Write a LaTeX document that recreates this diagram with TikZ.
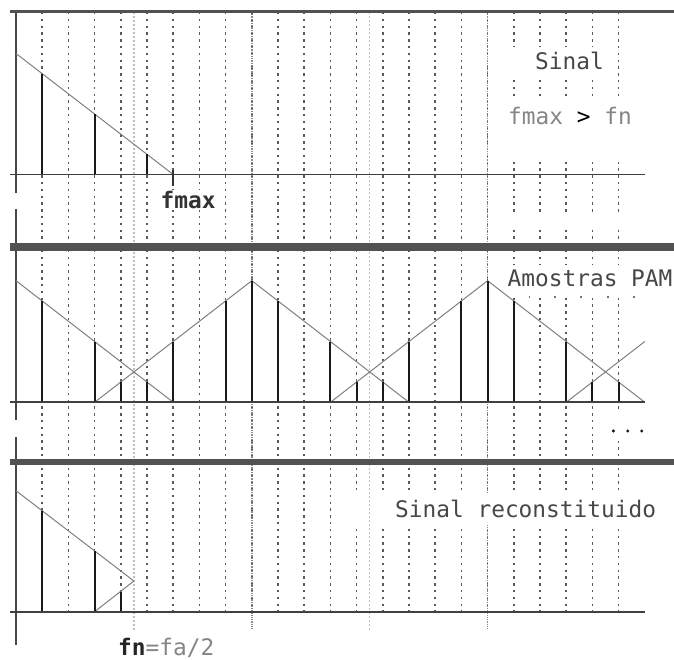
\documentclass[tikz,border=0pt]{standalone}
\usepackage{fontspec}
\setmonofont{DejaVu Sans Mono}
\newcommand\pxk[1]{16+26.2*(#1)}
\begin{document}
\begin{tikzpicture}[x=1pt,y=-1pt,
  dotv/.style={draw=black!65, line width=1.6pt, dash pattern=on 2.4pt off 4.4pt},
  midv/.style={draw=black!45, line width=1.5pt, dash pattern=on 1.2pt off 1pt},
  lightv/.style={draw=black!25, line width=1.3pt, dash pattern=on 2pt off 2pt},
  gapbox/.style={fill=white},
  sepline/.style={draw=black!68},
  axisline/.style={draw=black!72, line width=2pt},
  baseln/.style={draw=black!75, line width=1.7pt},
  tri/.style={draw=black!50, line width=1pt},
  stem/.style={draw=black!90, line width=2pt},
  txt/.style={inner sep=0pt, anchor=base west, font=\ttfamily\fontsize{22.8}{24}\selectfont},
  btxt/.style={txt, font=\ttfamily\bfseries\fontsize{22.8}{24}\selectfont}]
\path[use as bounding box] (0,0) rectangle (674,660);
\clip (0,0) rectangle (674,660);
\fill[white] (0,0) rectangle (674,660);
% regular sample grid lines
\foreach \k in {1,...,23} { \draw[dotv] ({\pxk{\k}},12) -- ({\pxk{\k}},617); }
% fa lines
\foreach \k in {9,18} { \draw[midv] ({\pxk{\k}},12) -- ({\pxk{\k}},630); }
% gaps behind texts
\fill[gapbox] (505,47) rectangle (611,79);
\fill[gapbox] (505,100) rectangle (626,162);
\fill[gapbox] (505,214) rectangle (626,229);
\fill[gapbox] (503,265) rectangle (674,296);
\fill[gapbox] (605,410) rectangle (674,441);
\fill[gapbox] (350,493) rectangle (674,525);
% fn lines
\foreach \k in {4.5,13.5} { \draw[lightv] ({\pxk{\k}},12) -- ({\pxk{\k}},630); }
% small dots under Amostras PAM
\foreach \x in {529.3,555,581,607.7,634} { \fill[black!55] (\x-0.8,296) rectangle (\x+0.8,297.6); }
% axis
\draw[axisline] (15.7,10) -- (15.7,193);
\draw[axisline] (15.7,209) -- (15.7,420);
\draw[axisline] (15.7,437) -- (15.7,645);
% separators
\draw[sepline, line width=3.5pt] (10,11.7) -- (674,11.7);
\draw[sepline, line width=7.3pt] (10,247) -- (674,247);
\draw[sepline, line width=6pt] (10,462.3) -- (674,462.3);
% ---------- panel 1 ----------
\draw[tri] (16,53.5) -- ({\pxk{6}},174.5);
\foreach \k/\f in {1/5,3/3,5/1} { \draw[stem] ({\pxk{\k}},174.5) -- ++(0,{-121*\f/6}); }
\draw[baseln] (10,174.5) -- (645,174.5);
\draw[black!80, line width=1.5pt] ({\pxk{6}},170) -- ({\pxk{6}},186);
% ---------- panel 2 ----------
\draw[tri] (16,280.7) -- ({\pxk{6}},402.3);
\draw[tri] ({\pxk{3}},402.3) -- ({\pxk{9}},280.7) -- ({\pxk{15}},402.3);
\draw[tri] ({\pxk{12}},402.3) -- ({\pxk{18}},280.7) -- ({\pxk{24}},402.3);
\draw[tri] ({\pxk{21}},402.3) -- ({\pxk{24}},341.5);
\foreach \k/\f in {1/5,3/3,4/1,5/1,6/3,8/5,9/6,10/5,12/3,13/1,14/1,15/3,17/5,18/6,19/5,21/3,22/1,23/1}
  { \draw[stem] ({\pxk{\k}},402.3) -- ++(0,{-121.6*\f/6}); }
\draw[baseln] (10,402.3) -- (645,402.3);
\foreach \x in {613.3,627.7,641.7} { \fill[black!90] (\x,431) circle (1.7); }
% ---------- panel 3 ----------
\draw[tri] (16,490.7) -- ({\pxk{4.5}},581) -- ({\pxk{3}},611.7);
\foreach \k/\f in {1/5,3/3,4/1} { \draw[stem] ({\pxk{\k}},611.7) -- ++(0,{-121*\f/6}); }
\draw[baseln] (10,611.7) -- (645,611.7);
% ---------- texts ----------
\node[txt, text=black!72] (sinal) at (535,70) {Sinal};
\node[txt] (cond) at (508,125) {\textcolor{black!48}{fmax} \textcolor{black}{>} \textcolor{black!48}{fn}};
\node[btxt, text=black!80, fill=white, inner sep=1pt] (fmax) at (159.5,208.3) {fmax};
\node[txt, text=black!72] (pam) at (507.5,286.7) {Amostras PAM};
\node[txt, text=black!72] (rec) at (395,517.3) {Sinal reconstituido};
\node[txt] (fn) at (118,655) {\textbf{\textcolor{black!85}{fn}}\textcolor{black!48}{=fa/2}};
\end{tikzpicture}
\end{document}
